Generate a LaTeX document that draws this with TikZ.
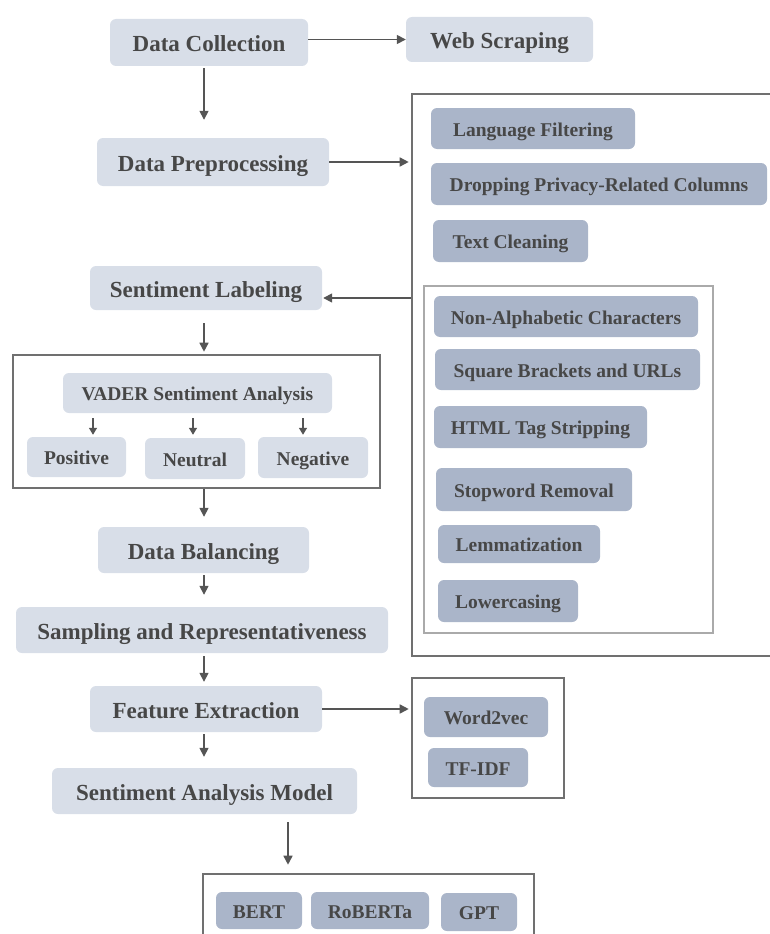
\documentclass[tikz,border=0pt]{standalone}
\usepackage{fontspec}
\setmainfont{Liberation Serif}
\usetikzlibrary{arrows.meta}
\definecolor{lightc}{HTML}{D8DEE8}
\definecolor{darkc}{HTML}{AAB5C9}
\definecolor{txtc}{HTML}{474747}
\definecolor{arrc}{HTML}{555555}
\definecolor{framec}{HTML}{707070}
\definecolor{iframec}{HTML}{AAAAAA}
\tikzset{
  boxbase/.style={rectangle, rounded corners=6pt, inner sep=0pt, text=txtc, text depth=0pt},
  lbox/.style={boxbase, fill=lightc, text height=18pt, font=\bfseries\fontsize{23}{27}\selectfont},
  lboxs/.style={boxbase, fill=lightc, text height=15.5pt, font=\bfseries\fontsize{19.5}{23}\selectfont},
  dbox/.style={boxbase, fill=darkc, text height=15.5pt, font=\bfseries\fontsize{19.5}{23}\selectfont},
  frame/.style={rectangle, draw=framec, line width=2.6pt, inner sep=0pt},
  iframe/.style={rectangle, draw=iframec, line width=1.2pt, inner sep=0pt},
  arr/.style={draw=arrc, line width=1.6pt, -{Triangle[length=9pt,width=9pt]}},
  sarr/.style={draw=arrc, line width=1.4pt, -{Triangle[length=7pt,width=8pt]}}
}
\newcommand\mybox[7]{\node[#1, minimum width={(#5-#3)*1pt}, minimum height={(#6-#4)*1pt}] (#2) at ({(#3+#5)/2},{(#4+#6)/2}) {#7};}
\begin{document}
\begin{tikzpicture}[x=1pt,y=-1pt]
\useasboundingbox (0,0) rectangle (770,934);
\clip (0,0) rectangle (770,934);
% main column
\mybox{lbox}{dc}{110}{19}{308}{66}{Data Collection}
\mybox{lbox}{ws}{406}{17}{593}{62}{Web Scraping}
\mybox{lbox}{dp}{97}{138}{329}{186}{Data Preprocessing}
\mybox{lbox}{sl}{90}{266}{322}{310}{Sentiment Labeling}
% VADER group
\mybox{frame}{vbox}{13}{355}{380}{488}{}
\mybox{lboxs}{vader}{63}{373}{332}{413}{VADER Sentiment Analysis}
\mybox{lboxs}{pos}{27}{437}{126}{477}{Positive}
\mybox{lboxs}{neu}{145}{438}{245}{479}{Neutral}
\mybox{lboxs}{neg}{258}{437}{368}{478}{Negative}
\mybox{lbox}{db}{98}{527}{309}{573}{Data Balancing}
\mybox{lbox}{sr}{16}{607}{388}{653}{Sampling and Representativeness}
\mybox{lbox}{fe}{90}{686}{322}{732}{Feature Extraction}
\mybox{lbox}{sam}{52}{768}{357}{814}{Sentiment Analysis Model}
% preprocessing group
\mybox{frame}{prep}{412}{94}{790}{656}{}
\mybox{dbox}{lf}{431}{108}{635}{149}{Language Filtering}
\mybox{dbox}{dpc}{431}{163}{767}{205}{Dropping Privacy-Related Columns}
\mybox{dbox}{tc}{433}{220}{588}{262}{Text Cleaning}
\mybox{iframe}{clean}{424}{286}{713}{633}{}
\mybox{dbox}{na}{434}{296}{698}{337}{Non-Alphabetic Characters}
\mybox{dbox}{sb}{435}{349}{700}{390}{Square Brackets and URLs}
\mybox{dbox}{html}{434}{406}{647}{448}{HTML Tag Stripping}
\mybox{dbox}{stop}{436}{468}{632}{511}{Stopword Removal}
\mybox{dbox}{lem}{438}{525}{600}{563}{Lemmatization}
\mybox{dbox}{low}{438}{580}{578}{622}{Lowercasing}
% features group
\mybox{frame}{wframe}{412}{678}{564}{798}{}
\mybox{dbox}{w2v}{424}{697}{548}{737}{Word2vec}
\mybox{dbox}{tfidf}{428}{748}{528}{787}{TF-IDF}
% models group
\mybox{frame}{mframe}{203}{874}{534}{950}{}
\mybox{dbox}{bert}{216}{892}{302}{929}{BERT}
\mybox{dbox}{roberta}{311}{892}{429}{929}{RoBERTa}
\mybox{dbox}{gpt}{441}{893}{517}{931}{GPT}
% connectors
\coordinate (col) at (204,0);
\coordinate (mcol) at (288,0);
\coordinate (v1) at (93,0);
\coordinate (v2) at (193,0);
\coordinate (v3) at (303,0);
\coordinate (sle) at ([yshift=-10pt]sl.east);
\draw[arr] (dc.east |- ws.west) -- (ws.west);
\draw[arr, shorten <=2pt, shorten >=18pt] (dc.south -| col) -- (dp.north -| col);
\draw[arr, shorten >=2pt] (dp.east) -- (dp.east -| prep.west);
\draw[arr, shorten >=1pt] (prep.west |- sle) -- (sle);
\draw[arr, shorten <=13pt, shorten >=2pt] (sl.south -| col) -- (vbox.north -| col);
\draw[sarr, shorten <=5pt, shorten >=2pt] (vader.south -| v1) -- (pos.north -| v1);
\draw[sarr, shorten <=5pt, shorten >=3pt] (vader.south -| v2) -- (neu.north -| v2);
\draw[sarr, shorten <=5pt, shorten >=2pt] (vader.south -| v3) -- (neg.north -| v3);
\draw[arr, shorten >=10pt] (vbox.south -| col) -- (db.north -| col);
\draw[arr, shorten <=2pt, shorten >=12pt] (db.south -| col) -- (sr.north -| col);
\draw[arr, shorten <=3pt, shorten >=4pt] (sr.south -| col) -- (fe.north -| col);
\draw[arr, shorten >=2pt] (fe.east) -- (fe.east -| wframe.west);
\draw[arr, shorten <=2pt, shorten >=11pt] (fe.south -| col) -- (sam.north -| col);
\draw[arr, shorten <=8pt, shorten >=8pt] (sam.south -| mcol) -- (mframe.north -| mcol);
\end{tikzpicture}
\end{document}
